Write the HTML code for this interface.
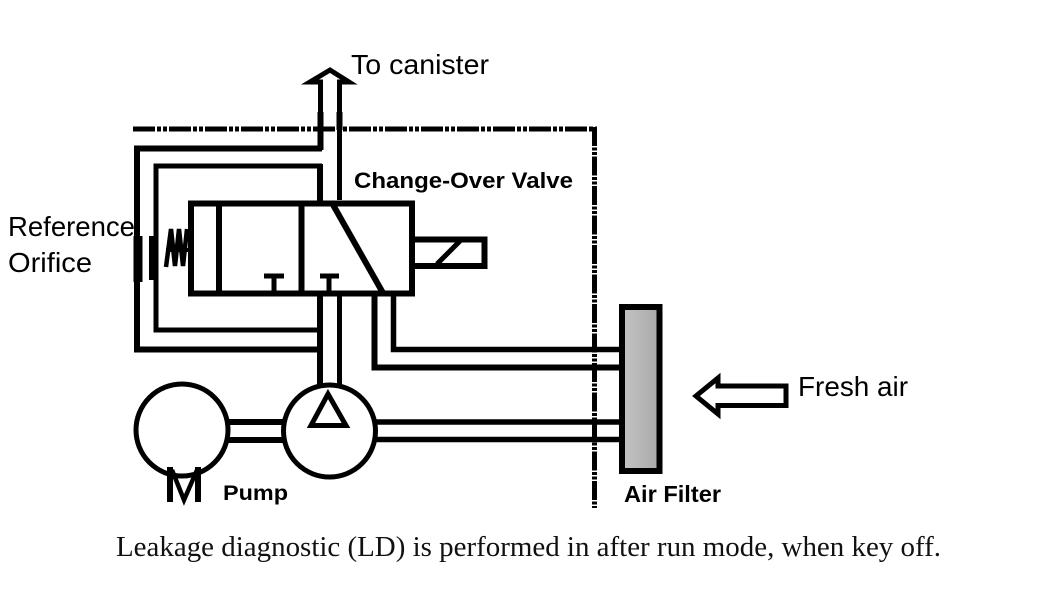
<!DOCTYPE html>
<html><head><meta charset="utf-8">
<style>html,body{margin:0;padding:0;background:#fff;width:1043px;height:589px;overflow:hidden}svg{display:block}</style>
</head><body>
<svg width="1043" height="589" viewBox="0 0 1043 589" xmlns="http://www.w3.org/2000/svg">
<defs><linearGradient id="g" x1="0" x2="1" y1="0" y2="0"><stop offset="0" stop-color="#c4c4c4"/><stop offset="1" stop-color="#a8a8a8"/></linearGradient></defs>
<rect width="1043" height="589" fill="#fff"/>
<g fill="none" stroke="#000" stroke-linejoin="miter">
<!-- boundary dash -->
<path d="M133 129H597" stroke-width="5" stroke-dasharray="22 2 4 2 4 2"/>
<path d="M594.500 127V508" stroke-width="5" stroke-dasharray="19 1.500 3 1.500 3 1.500"/>
<!-- arrow up -->
<path d="M320.500 150V82H310L330 70L349 82H339.500V200" stroke-width="5"/>
<path d="M320.500 112V150" stroke-width="6"/>
<path d="M339.500 112V130" stroke-width="6"/>
<!-- outer and inner pipes -->
<path d="M322 148.500H137V349.500H320" stroke-width="6"/>
<path d="M322 166H156V330H320" stroke-width="5"/>
<path d="M320 164V203M320 293V386" stroke-width="6"/>
<path d="M339.500 293V385" stroke-width="5"/>
<!-- valve -->
<rect x="191" y="203.500" width="221" height="90" stroke-width="6"/>
<path d="M219 203V293M301.500 203V293" stroke-width="6"/>
<path d="M332 203L383 293" stroke-width="6"/>
<path d="M274 276V293M264 276H284M329 276V293M320 276H339" stroke-width="5"/>
<!-- spring -->
<path d="M166 267L171 229L175 266L179 229L183 266L187 229" stroke-width="4.500"/>
<path d="M166 250H188" stroke-width="4"/>
<!-- orifice -->
<path d="M138 236V282" stroke-width="9"/>
<path d="M153.500 236V280" stroke-width="9"/>
<!-- solenoid -->
<path d="M413 239.500H484.500V266H413" stroke-width="6"/>
<path d="M460 241L437 264" stroke-width="5"/>
<!-- right pipes -->
<path d="M374.500 293V367.500H620" stroke-width="6"/>
<path d="M393.500 293V349.500H620" stroke-width="5.500"/>
<path d="M375 422H622M375 439.500H622" stroke-width="5.500"/>
<path d="M228 422H285M228 440H285" stroke-width="6"/>
<!-- filter -->
<rect x="622" y="307" width="37.500" height="164" fill="url(#g)" stroke-width="6"/>
<!-- pumps -->
<circle cx="182" cy="430" r="46" fill="#fff" stroke-width="5"/>
<circle cx="329.500" cy="431" r="46" fill="#fff" stroke-width="5"/>
<path d="M328 394L346 425.500H311Z" stroke-width="5"/>
<path d="M170 502V467M198 502V467" stroke-width="6"/>
<path d="M172 470L184 500L197 470" stroke-width="4.500"/>
<!-- fresh air arrow -->
<path d="M786 386V405.500H718V414L696 396L718 378V386Z" stroke-width="5"/>
</g>
<g fill="#000" font-family="'Liberation Sans',sans-serif">
<text x="351" y="74" font-size="28" textLength="138" lengthAdjust="spacingAndGlyphs">To canister</text>
<text x="8" y="236" font-size="27.500" textLength="127" lengthAdjust="spacingAndGlyphs">Reference</text>
<text x="8" y="272" font-size="27.500" textLength="84" lengthAdjust="spacingAndGlyphs">Orifice</text>
<text x="798" y="396" font-size="28" textLength="110" lengthAdjust="spacingAndGlyphs">Fresh air</text>
<text x="354" y="188" font-size="22.500" font-weight="bold" textLength="219" lengthAdjust="spacingAndGlyphs">Change-Over Valve</text>
<text x="223" y="500" font-size="21" font-weight="bold" textLength="65" lengthAdjust="spacingAndGlyphs">Pump</text>
<text x="624" y="502" font-size="23" font-weight="bold" textLength="97" lengthAdjust="spacingAndGlyphs">Air Filter</text>
</g>
<text x="116" y="556" font-family="'Liberation Serif',serif" font-size="28" fill="#111" textLength="825" lengthAdjust="spacingAndGlyphs">Leakage diagnostic (LD) is performed in after run mode, when key off.</text>
</svg>
</body></html>
